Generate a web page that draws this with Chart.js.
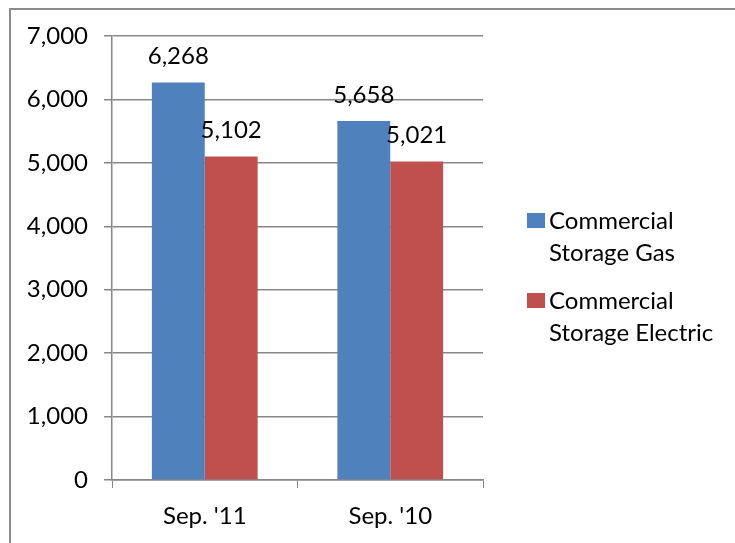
<!DOCTYPE html>
<html>
<head>
<meta charset="utf-8">
<script src="https://cdn.jsdelivr.net/npm/chart.js@4.4.1/dist/chart.umd.min.js"></script>
<style>
  html, body { margin: 0; padding: 0; background: #fff; }
  #wrap { width: 735px; height: 543px; position: relative; }
</style>
</head>
<body>
<div id="wrap"><canvas id="grafico" width="735" height="543"></canvas></div>
<script>
const categorias = ["Sep. '11", "Sep. '10"];
const series = ["Commercial Storage Gas", "Commercial Storage Electric"];
const valoresGas = [6268, 5658];
const valoresEletrico = [5102, 5021];
const ticksY = [0, 1000, 2000, 3000, 4000, 5000, 6000, 7000];

const FONTE = "Lato, 'Liberation Sans', sans-serif";
const cores = ['#4F81BD', '#C0504D'];
const cinza = '#878787';

// borda externa + rotulos dos valores + legenda desenhada a mao
const extras = {
    id: 'extras',
    beforeDraw(chart) {
        const ctx = chart.ctx;
        ctx.save();
        ctx.fillStyle = '#fff';
        ctx.fillRect(0, 0, chart.width, chart.height);
        ctx.strokeStyle = '#8c8c8c';
        ctx.lineWidth = 2;
        ctx.strokeRect(10, 9, 800, 600);
        ctx.restore();
    },
    afterDatasetsDraw(chart) {
        const ctx = chart.ctx;
        ctx.save();
        ctx.font = '24px ' + FONTE;
        ctx.fillStyle = '#000';
        ctx.textAlign = 'center';
        ctx.textBaseline = 'middle';
        chart.data.datasets.forEach((ds, i) => {
            chart.getDatasetMeta(i).data.forEach((bar, j) => {
                ctx.fillText(ds.data[j].toLocaleString('en-US'), bar.x, bar.y - 26);
            });
        });

        // legenda
        const x0 = 527, ys = [213, 293];
        chart.data.datasets.forEach((ds, i) => {
            ctx.fillStyle = ds.backgroundColor;
            ctx.fillRect(x0, ys[i], 18, 15);
            ctx.fillStyle = '#000';
            ctx.textAlign = 'left';
            const partes = ds.label.split(' ');
            ctx.fillText(partes[0], x0 + 22, ys[i] + 8);
            ctx.fillText(partes.slice(1).join(' '), x0 + 22, ys[i] + 40);
        });
        ctx.restore();
    }
};

new Chart(document.getElementById('grafico').getContext('2d'), {
    type: 'bar',
    data: {
        labels: categorias,
        datasets: [
            { label: series[0], data: valoresGas, backgroundColor: cores[0] },
            { label: series[1], data: valoresEletrico, backgroundColor: cores[1] }
        ]
    },
    options: {
        responsive: false,
        animation: false,
        layout: { padding: { left: 10, right: 252, top: 36, bottom: 5 } },
        datasets: { bar: { barPercentage: 1, categoryPercentage: 0.57 } },
        plugins: { legend: { display: false }, tooltip: { enabled: false } },
        scales: {
            x: {
                afterFit(scale) { scale.height = 58; },
                grid: { offset: true, drawOnChartArea: false, drawTicks: true, tickLength: 8, color: cinza },
                border: { color: cinza, width: 1.5 },
                ticks: { color: '#000', font: { family: FONTE, size: 24 }, padding: 14 }
            },
            y: {
                min: 0,
                max: 7000,
                afterFit(scale) { scale.width = 102; },
                afterBuildTicks(scale) { scale.ticks = ticksY.map(v => ({ value: v })); },
                grid: { color: cinza, lineWidth: 1.5, tickLength: 8 },
                border: { color: cinza, width: 1.5 },
                ticks: {
                    color: '#000',
                    padding: 16,
                    font: { family: FONTE, size: 24 },
                    callback: v => v.toLocaleString('en-US')
                }
            }
        }
    },
    plugins: [extras]
});
</script>
</body>
</html>
